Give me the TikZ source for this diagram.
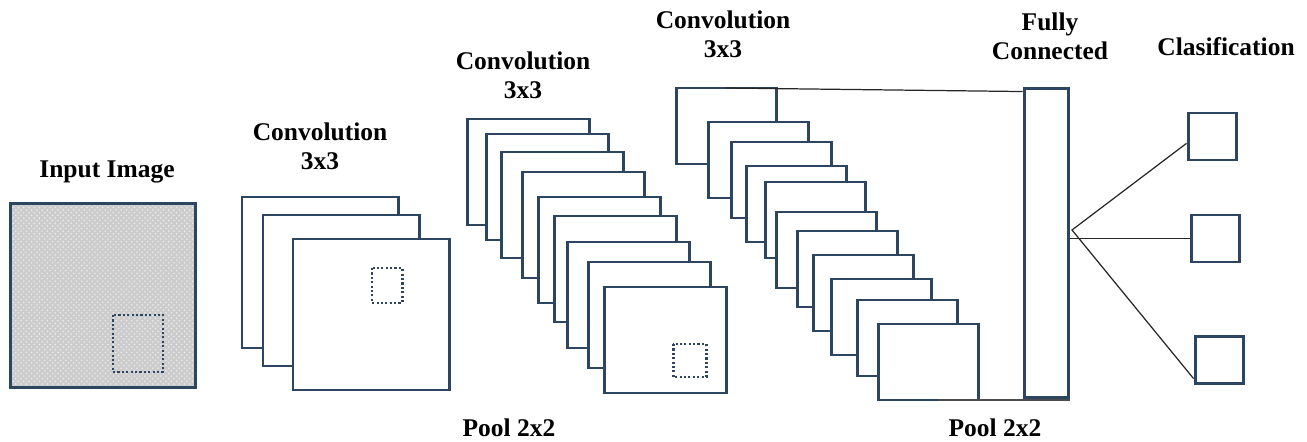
\documentclass[tikz,border=0pt]{standalone}
\usepackage{fontspec}
\setmainfont{Liberation Serif}
\usetikzlibrary{positioning, patterns}

\definecolor{mapblue}{RGB}{44,70,98}

\begin{document}
\begin{tikzpicture}[x=0.02cm,y=-0.02cm,
    map/.style={draw=mapblue,line width=1.7pt,fill=white},
    window/.style={draw=mapblue,line width=1.7pt,dash pattern=on 1.2pt off 1.3pt},
    link/.style={draw=black!85,line width=0.7pt},
    label/.style={font=\fontsize{14.5}{16.5}\selectfont\bfseries,align=center},
    ]
  \useasboundingbox (0,0) rectangle (1307,442);

  % input image with its window
  \node[map, preaction={fill=gray!40}, pattern=crosshatch dots, pattern color=white!85!gray,
        inner sep=0, minimum width=3.72cm, minimum height=3.7cm] (input) at (103,295.5) {};
  \draw[window] (113,315) rectangle (163,372);
  \node[label] (inlabel) at (107,172) {Input Image};

  % first convolution
  \foreach \x/\y in {242/197, 263/215, 293/239}
    \draw[map] (\x,\y) rectangle ++(156,151);
  \draw[window] (372,268) rectangle (402,303);
  \node[label] (conv1) at (320,146) {Convolution\\3x3};

  % second convolution
  \foreach \x/\y in {467/119, 486/134, 501/152, 522/172, 538/197,
                     554/216, 567/242, 588/262, 604/287}
    \draw[map] (\x,\y) rectangle ++(122,106);
  \draw[window] (673,344) rectangle (706,377);
  \node[label] (conv2) at (523,75) {Convolution\\3x3};
  \node[label] (pool1) at (509,428) {Pool 2x2};

  % third convolution
  \foreach \x/\y in {676/88, 708/122, 731/142, 746/166, 765/182, 776/212,
                     797/231, 813/255, 831/279, 857/300, 878/324}
    \draw[map] (\x,\y) rectangle ++(100,76);
  \node[label] (conv3) at (723,34) {Convolution\\3x3};
  \node[label] (pool2) at (995,428) {Pool 2x2};
  \coordinate (c3top) at (725,88);
  \coordinate (c3bot) at (938,400);

  % fully connected layer
  \node[map, inner sep=0, minimum width=0.88cm, minimum height=6.2cm] (fc) at (1046,243) {};
  \node[label] (fclabel) at (1050,36) {Fully\\Connected};
  \draw[link] (c3top) -- ([yshift=-0.1cm]fc.north west);
  \draw[link, draw=black!70, line width=1pt] (c3bot) -- (c3bot -| fc.east);

  % classification outputs
  \node[map, inner sep=0, minimum width=0.96cm, minimum height=0.94cm] (out1) at (1212,136.5) {};
  \node[map, inner sep=0, minimum width=0.96cm, minimum height=0.94cm] (out2) at (1215,238.5) {};
  \node[map, inner sep=0, minimum width=0.96cm, minimum height=0.94cm] (out3) at (1219,360) {};
  \node[label] (outlabel) at (1226,47) {Clasification};

  \coordinate (hub) at (1072,230);
  \draw[link] (out1.195) -- (hub) -- (out3.216);
  \draw[link] (out2.west -| fc.east) -- (out2.west);
\end{tikzpicture}
\end{document}
